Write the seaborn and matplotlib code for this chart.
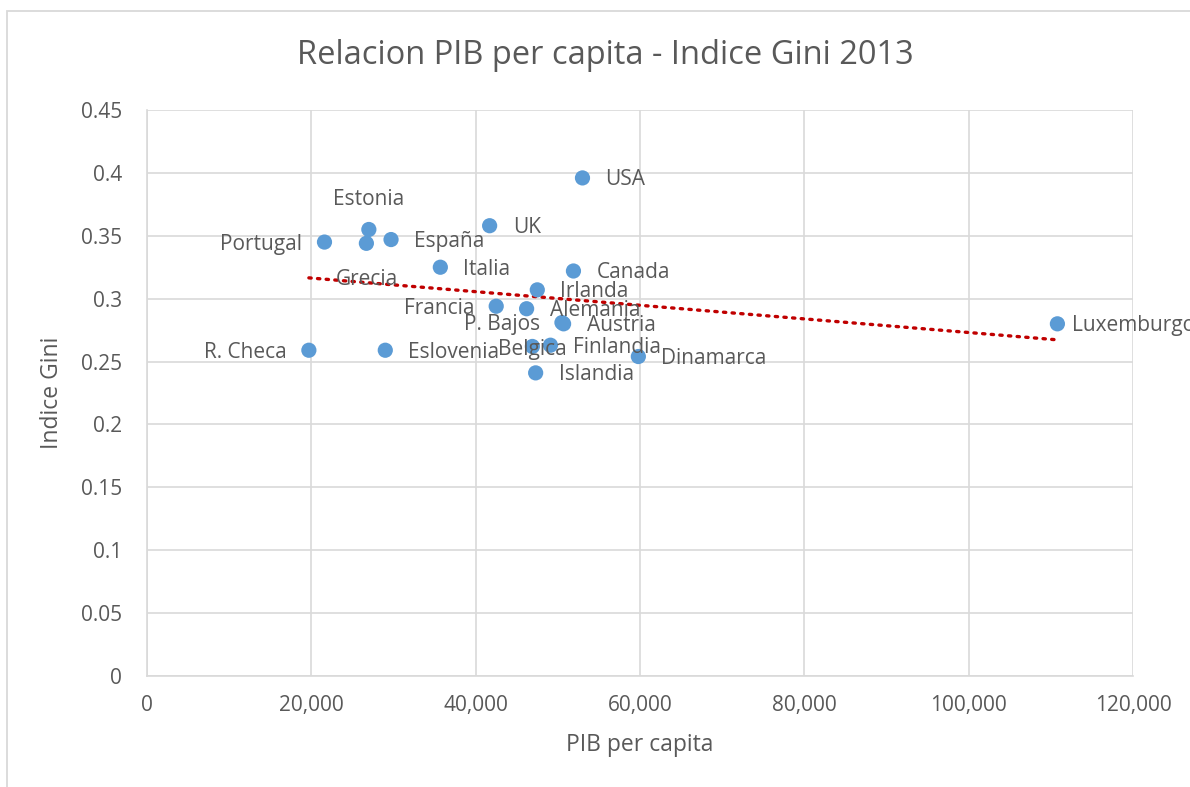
import numpy as np
import pandas as pd
import matplotlib
matplotlib.use("Agg")
import matplotlib.pyplot as plt
import seaborn as sns
from matplotlib.patches import Rectangle
from matplotlib.ticker import FuncFormatter, MultipleLocator

paises = ['USA', 'UK', 'Estonia', 'Portugal', 'Grecia', 'España', 'Italia', 'Canada',
          'Irlanda', 'Francia', 'Alemania', 'P. Bajos', 'Austria', 'R. Checa', 'Eslovenia',
          'Belgica', 'Finlandia', 'Islandia', 'Dinamarca', 'Luxemburgo']
pib = [53000, 41700, 27000, 21600, 26700, 29700, 35700, 51900,
       47500, 42500, 46200, 50500, 50700, 19700, 29000,
       46900, 49100, 47300, 59800, 110800]
gini = [0.396, 0.358, 0.355, 0.345, 0.344, 0.347, 0.325, 0.322,
        0.307, 0.294, 0.292, 0.281, 0.280, 0.259, 0.259,
        0.262, 0.263, 0.241, 0.254, 0.280]
# where each data label sits relative to its point
posicion = ['right', 'right', 'above', 'left', 'below', 'right', 'right', 'right',
            'right', 'left', 'right', 'left', 'right', 'left', 'right',
            'center', 'right', 'right', 'right', 'near']

df = pd.DataFrame({'pais': paises, 'pib': pib, 'gini': gini})

sns.set_style('white')
plt.rcParams['font.family'] = ['Open Sans', 'DejaVu Sans']

gris = '#595959'
fig = plt.figure(figsize=(11.9, 7.87), dpi=100)
ax = fig.add_axes([147 / 1190, 1 - 676 / 787, 986 / 1190, 566 / 787])

# outer chart frame (cut off at right and bottom like the screenshot)
fig.patches.append(Rectangle((7 / 1190, -0.2), 1.3, 1.2 - 11 / 787,
                             transform=fig.transFigure, fill=False,
                             edgecolor='#D9D9D9', linewidth=1.3, zorder=0))

# trend line (linear)
m, b = np.polyfit(df['pib'], df['gini'], 1)
xs = np.array([df['pib'].min(), df['pib'].max()])
ax.plot(xs, m * xs + b, color='#C00000', linewidth=2.4,
        linestyle=(0, (0.7, 1.9)), dash_capstyle='round', zorder=2)

sns.scatterplot(data=df, x='pib', y='gini', ax=ax, color='#5B9BD5',
                s=120, edgecolor='none', zorder=3, legend=False)

offs = {'right': (23, -2, 'left'), 'left': (-22, -2, 'right'),
        'above': (0, 30, 'center'), 'below': (0, -36, 'center'),
        'center': (0, -3, 'center'), 'near': (15, -2, 'left')}
for p, x, y, pos in zip(paises, pib, gini, posicion):
    dx, dy, ha = offs[pos]
    ax.annotate(p, (x, y), xytext=(dx, dy), textcoords='offset pixels',
                ha=ha, va='center', fontsize=15, color=gris,
                annotation_clip=False, zorder=4)

ax.set_xlim(0, 120000)
ax.set_ylim(0, 0.45)
ax.xaxis.set_major_locator(MultipleLocator(20000))
ax.yaxis.set_major_locator(MultipleLocator(0.05))
ax.xaxis.set_major_formatter(FuncFormatter(lambda v, _: f'{v:,.0f}'))
ax.yaxis.set_major_formatter(FuncFormatter(lambda v, _: f'{v:.2f}'.rstrip('0').rstrip('.')))
ax.grid(True, color='#D9D9D9', linewidth=1.2)
ax.set_axisbelow(True)
for side in ['top', 'right']:
    ax.spines[side].set_visible(False)
for side in ['left', 'bottom']:
    ax.spines[side].set_color('#D9D9D9')
    ax.spines[side].set_linewidth(1.2)
ax.tick_params(axis='both', length=0, labelsize=15, labelcolor=gris)
ax.tick_params(axis='x', pad=14)
ax.tick_params(axis='y', pad=18)

ax.set_xlabel('PIB per capita', fontsize=16.5, color=gris, labelpad=12)
ax.set_ylabel('Indice Gini', fontsize=16.5, color=gris, labelpad=12)
fig.text(605 / 1190, 1 - 55 / 787, 'Relacion PIB per capita - Indice Gini 2013',
         ha='center', va='center', fontsize=23.5, color=gris)

fig.savefig('out.png', dpi=100)
